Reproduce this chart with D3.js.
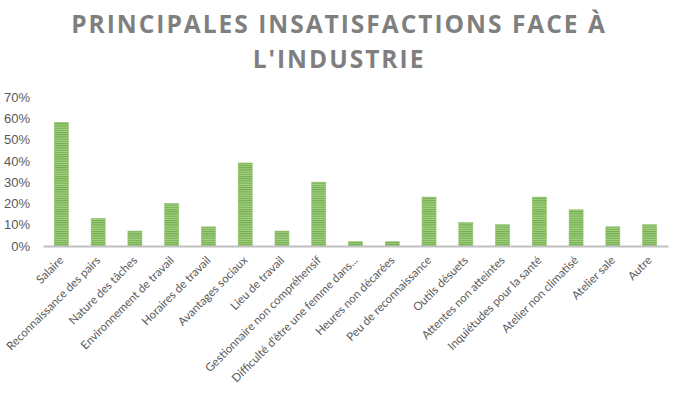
<!DOCTYPE html>
<html><head><meta charset="utf-8">
<script src="https://cdn.jsdelivr.net/npm/d3@7/dist/d3.min.js"></script>
<style>body{margin:0;background:#fff}svg{display:block}</style>
</head><body>
<script>
const categories = ["Salaire","Reconnaissance des pairs","Nature des tâches","Environnement de travail","Horaires de travail","Avantages sociaux","Lieu de travail","Gestionnaire non compréhensif","Difficulté d'être une femme dans...","Heures non décarées","Peu de reconnaissance","Outils désuets","Attentes non atteintes","Inquiétudes pour la santé","Atelier non climatisé","Atelier sale","Autre"];
const values = [0.58,0.13,0.07,0.20,0.09,0.39,0.07,0.30,0.02,0.02,0.23,0.11,0.10,0.23,0.17,0.09,0.10];
const yTicks = [0,0.1,0.2,0.3,0.4,0.5,0.6,0.7];
const titleLines = ["PRINCIPALES INSATISFACTIONS FACE À","L'INDUSTRIE"];

const W=677,H=393;
const svg=d3.select("body").append("svg").attr("width",W).attr("height",H);
const defs=svg.append("defs");
const pat=defs.append("pattern").attr("id","stripes").attr("patternUnits","userSpaceOnUse").attr("width",4).attr("height",2.2);
pat.append("rect").attr("width",4).attr("height",2.2).attr("fill","#a9d18e");
pat.append("rect").attr("width",4).attr("height",1.1).attr("fill","#70ad47");

const m={l:43,r:9,t:97,b:147};
const x=d3.scaleBand().domain(categories).range([m.l,W-m.r]).paddingInner(0.62).paddingOuter(0.31);
const y=d3.scaleLinear().domain([0,0.7]).range([246,97]);

svg.selectAll("text.title").data(titleLines).enter().append("text")
 .attr("x",339).attr("y",(d,i)=>33+i*35).attr("text-anchor","middle")
 .attr("font-family","Open Sans").attr("font-weight",700).attr("font-size",24.5)
 .attr("letter-spacing",2).attr("fill","#7f7f7f").text(d=>d);

const ya=svg.append("g").attr("transform",`translate(${m.l},0)`)
 .call(d3.axisLeft(y).tickValues(yTicks).tickFormat(d3.format(".0%")).tickSize(0).tickPadding(13));
ya.select(".domain").remove();
ya.selectAll("text").attr("font-family","Liberation Sans, Arial").attr("font-size",13).attr("fill","#595959");

svg.selectAll("rect.bar").data(values).enter().append("rect")
 .attr("x",(d,i)=>x(categories[i])).attr("width",x.bandwidth())
 .attr("y",d=>y(d)).attr("height",d=>y(0)-y(d))
 .attr("fill","url(#stripes)").attr("stroke","#8cc168").attr("stroke-width",0.6);

const xa=svg.append("g").attr("transform",`translate(0,${y(0)})`)
 .call(d3.axisBottom(x).tickSize(0).tickSizeOuter(0));
xa.select(".domain").attr("stroke","#bfbfbf").attr("stroke-width",2);
xa.selectAll("text").attr("font-family","Lato").attr("font-size",11.5).attr("fill","#595959")
 .attr("text-anchor","end").attr("dy",0).attr("y",0)
 .attr("transform","translate(3,15) rotate(-45)");
</script>
</body></html>
